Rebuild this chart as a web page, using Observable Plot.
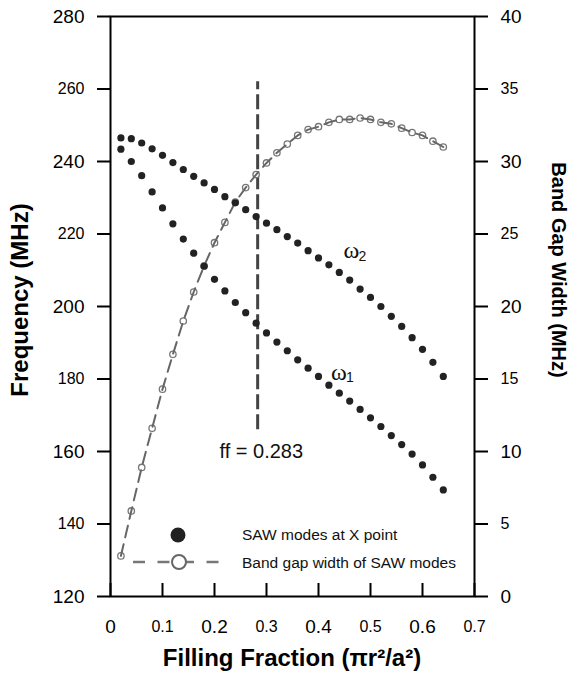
<!DOCTYPE html>
<html>
<head>
<meta charset="utf-8">
<script src="https://cdn.jsdelivr.net/npm/d3@7"></script>
<script src="https://cdn.jsdelivr.net/npm/@observablehq/plot@0.6"></script>
<style>
  body { margin: 0; background: #fff; }
  #chart svg { display: block; }
</style>
</head>
<body>
<div id="chart"></div>
<script>
// ---- data ----
const fillingFraction = [0.02,0.04,0.06,0.08,0.10,0.12,0.14,0.16,0.18,0.20,0.22,0.24,0.26,0.28,0.30,0.32,
                         0.34,0.36,0.38,0.40,0.42,0.44,0.46,0.48,0.50,0.52,0.54,0.56,0.58,0.60,0.62,0.64];
const omega2 = [246.5,246.3,245.1,243.5,241.7,239.7,237.8,235.9,234.1,232.3,230.3,228.6,226.7,224.8,223.0,221.2,
                219.3,217.5,215.4,213.4,211.5,209.4,207.3,204.8,202.5,200.0,197.3,194.5,191.4,188.2,184.6,180.7];
const omega1 = [243.4,240.0,236.1,231.6,227.2,222.8,218.6,214.7,211.1,207.5,204.3,201.1,198.3,195.4,192.7,190.2,
                187.8,185.3,183.0,180.7,178.3,176.1,173.9,171.6,169.3,166.9,164.4,161.9,159.3,156.3,152.9,149.4];
const gapWidth = [2.8,5.9,8.9,11.6,14.3,16.7,19.0,21.0,22.8,24.4,25.8,27.2,28.2,29.1,29.9,30.6,
                  31.2,31.8,32.2,32.4,32.7,32.9,32.9,33.0,32.9,32.7,32.6,32.3,32.0,31.8,31.4,31.0];

const xTicksMajor = [0, 0.2, 0.4, 0.6];
const xTicksMinor = [0.1, 0.3, 0.5, 0.7];
const freqTicksMajor = [120, 160, 200, 240, 280];
const freqTicksMinor = [140, 180, 220, 260];
const gapTicksMajor = [0, 10, 20, 30, 40];
const gapTicksMinor = [5, 15, 25, 35];

const ffValue = 0.283;
const ffLineFreq = [166, 262];
const ffLabel = "ff = 0.283";

const seriesLabels = ["SAW modes at X point", "Band gap width of SAW modes"];
const titles = {x: "Filling Fraction (\u03c0r\u00b2/a\u00b2)", yLeft: "Frequency (MHz)", yRight: "Band Gap Width (MHz)"};

// ---- scales ----
const xDomain = [0, 0.7];
const freqDomain = [120, 280];
const gapDomain = [0, 40];
const gapToFreq = d3.scaleLinear().domain(gapDomain).range(freqDomain);

const W = 574, H = 677;
const margin = {top: 16, right: 100, bottom: 81, left: 110};
const innerH = H - margin.top - margin.bottom;

const dots = fillingFraction.map((x, i) => ({x, w1: omega1[i], w2: omega2[i], gap: gapWidth[i]}));

const font = "'Liberation Sans', Arial, Helvetica, sans-serif";

// legend + axis titles drawn relative to the frame (layout only)
function decorMark(index, scales, values, dims) {
  const x0 = dims.marginLeft, y0 = dims.height - dims.marginBottom;
  const x1 = dims.width - dims.marginRight, yMid = (dims.marginTop + y0) / 2;
  const g = d3.create("svg:g").attr("font-family", font).attr("text-anchor", "start");
  // legend
  g.append("circle").attr("cx", x0 + 68).attr("cy", y0 - 61).attr("r", 7.5).attr("fill", "#222");
  g.append("line").attr("x1", x0 + 23).attr("x2", x0 + 116).attr("y1", y0 - 34).attr("y2", y0 - 34)
    .attr("stroke", "#777").attr("stroke-width", 2.5).attr("stroke-dasharray", "12,12.5");
  g.append("circle").attr("cx", x0 + 69).attr("cy", y0 - 34).attr("r", 7).attr("fill", "#fff")
    .attr("stroke", "#666").attr("stroke-width", 2);
  g.append("text").attr("x", x0 + 132).attr("y", y0 - 61).attr("dy", "0.35em").attr("font-size", 15.5)
    .attr("fill", "#111").text(seriesLabels[0]);
  g.append("text").attr("x", x0 + 132).attr("y", y0 - 33).attr("dy", "0.35em").attr("font-size", 15.5)
    .attr("fill", "#111").text(seriesLabels[1]);
  // axis titles
  g.append("text").attr("transform", `translate(${x0 - 90},${yMid - 6}) rotate(-90)`)
    .attr("text-anchor", "middle").attr("dy", "0.35em").attr("font-size", 24).attr("font-weight", "bold")
    .text(titles.yLeft);
  g.append("text").attr("transform", `translate(${x1 + 85},${yMid - 36}) rotate(90)`)
    .attr("text-anchor", "middle").attr("dy", "0.35em").attr("font-size", 20).attr("font-weight", "bold")
    .text(titles.yRight);
  g.append("text").attr("transform", `translate(${(x0 + x1) / 2},${y0 + 62})`)
    .attr("text-anchor", "middle").attr("dy", "0.35em").attr("font-size", 24).attr("font-weight", "bold")
    .text(titles.x);
  return g.node();
}

const chart = Plot.plot({
  width: W, height: H,
  marginTop: margin.top, marginRight: margin.right, marginBottom: margin.bottom, marginLeft: margin.left,
  style: {fontFamily: font, background: "#fff", color: "#000"},
  x: {domain: xDomain, axis: null},
  y: {domain: freqDomain, axis: null},
  marks: [
    // left axis
    Plot.axisY(freqTicksMajor, {anchor: "left", tickSize: 13, tickPadding: 13, fontSize: 19, strokeWidth: 2, label: null}),
    Plot.axisY(freqTicksMinor, {anchor: "left", tickSize: 13, tickPadding: 13, fontSize: 16, strokeWidth: 2, label: null}),
    // right axis (band gap scale)
    Plot.axisY(gapTicksMajor.map(gapToFreq), {anchor: "right", tickSize: 13, tickPadding: 13, fontSize: 19, strokeWidth: 2,
      tickFormat: d => Math.round(gapToFreq.invert(d)), label: null}),
    Plot.axisY(gapTicksMinor.map(gapToFreq), {anchor: "right", tickSize: 13, tickPadding: 13, fontSize: 16, strokeWidth: 2,
      tickFormat: d => Math.round(gapToFreq.invert(d)), label: null}),
    // bottom axis: inward ticks + two label sizes
    Plot.tickX([...xTicksMajor, ...xTicksMinor], {x: d => d, insetTop: innerH - 13, stroke: "#000", strokeWidth: 2}),
    Plot.axisX(xTicksMajor, {anchor: "bottom", tickSize: 0, tickPadding: 23, fontSize: 19, label: null, tickFormat: d => String(d)}),
    Plot.axisX(xTicksMinor, {anchor: "bottom", tickSize: 0, tickPadding: 24, fontSize: 16, label: null, tickFormat: d => String(d)}),
    Plot.frame({stroke: "#000", strokeWidth: 2}),
    // ff line
    Plot.ruleX([ffValue], {x: d => d, y1: ffLineFreq[0], y2: ffLineFreq[1], stroke: "#444", strokeWidth: 3, strokeDasharray: "15,5"}),
    Plot.text([ffLabel], {x: ffValue - 0.0734, y: 160, text: d => d, textAnchor: "start", fontSize: 20, fill: "#111"}),
    // band gap width
    Plot.dot(dots, {x: "x", y: d => gapToFreq(d.gap), r: 3.2, fill: "#fff", stroke: "#777", strokeWidth: 1.3}),
    Plot.line(dots, {x: "x", y: d => gapToFreq(d.gap), stroke: "#666", strokeWidth: 2, strokeDasharray: "12,7"}),
    // SAW modes
    Plot.dot(dots, {x: "x", y: "w2", r: 3.6, fill: "#222"}),
    Plot.dot(dots, {x: "x", y: "w1", r: 3.6, fill: "#222"}),
    // omega labels
    Plot.text(["\u03c9"], {x: 0.448, y: 215.4, text: d => d, textAnchor: "start", fontSize: 24, fontFamily: "'Liberation Serif', 'Times New Roman', serif", fill: "#111"}),
    Plot.text(["2"], {x: 0.448, y: 215.4, dx: 15, dy: 6, text: d => d, textAnchor: "start", fontSize: 14, fill: "#111"}),
    Plot.text(["\u03c9"], {x: 0.424, y: 181.9, text: d => d, textAnchor: "start", fontSize: 24, fontFamily: "'Liberation Serif', 'Times New Roman', serif", fill: "#111"}),
    Plot.text(["1"], {x: 0.424, y: 181.9, dx: 15, dy: 5, text: d => d, textAnchor: "start", fontSize: 14, fill: "#111"}),
    // legend and titles
    decorMark
  ]
});

document.getElementById("chart").append(chart);
</script>
</body>
</html>
